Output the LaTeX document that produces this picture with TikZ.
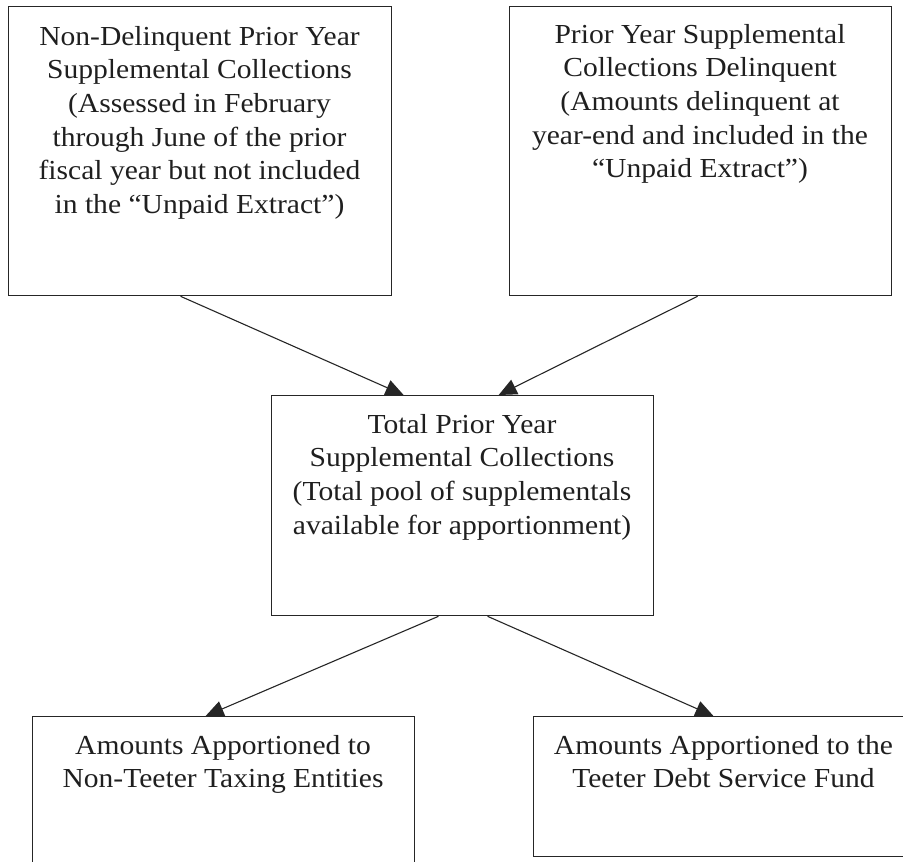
\documentclass[tikz,border=0pt]{standalone}
\usepackage{fontspec}
\setmainfont{Liberation Serif}[FakeStretch=1.075]
\usetikzlibrary{arrows.meta,calc}
\begin{document}
\begin{tikzpicture}[x=1pt,y=-1pt,
  box/.style={draw=black!85,line width=1.3pt,rectangle,inner sep=0pt,anchor=north west},
  txt/.style={align=center,inner sep=0pt,anchor=north,text=black!88,
     font=\fontsize{27.5}{33.6}\selectfont},
  link/.style={draw=black!85,line width=1.1pt,-{Triangle[length=18pt,width=16pt]}}]
\useasboundingbox (0,0) rectangle (903,862);
\clip (0,0) rectangle (903,862);
% boxes
\node[box,minimum width=383pt,minimum height=289pt] (tl) at (8,6) {};
\node[box,minimum width=382pt,minimum height=289pt] (tr) at (509,6) {};
\node[box,minimum width=382pt,minimum height=220pt] (m) at (271,395) {};
\node[box,minimum width=382pt,minimum height=170pt] (bl) at (32,716) {};
\node[box,minimum width=381pt,minimum height=140pt] (br) at (533,716) {};
% texts
\node[txt] (tlt) at (199.5,26) {Non-Delinquent Prior Year\\Supplemental Collections\\(Assessed in February\\through June of the prior\\fiscal year but not included\\in the “Unpaid Extract”)};
\node[txt] (trt) at (700,24) {Prior Year Supplemental\\Collections Delinquent\\(Amounts delinquent at\\year-end and included in the\\“Unpaid Extract”)};
\node[txt] (mt) at (462,414) {Total Prior Year\\Supplemental Collections\\(Total pool of supplementals\\available for apportionment)};
\node[txt] (blt) at (223,735) {Amounts Apportioned to\\Non-Teeter Taxing Entities};
\node[txt] (brt) at (723.5,735) {Amounts Apportioned to the\\Teeter Debt Service Fund};
% connectors
\draw[link] ($(tl.south west)!0.449!(tl.south east)$) -- ($(m.north west)!0.346!(m.north east)$);
\draw[link] ($(tr.south west)!0.492!(tr.south east)$) -- ($(m.north west)!0.594!(m.north east)$);
\draw[link] ($(m.south west)!0.437!(m.south east)$) -- ($(bl.north west)!0.453!(bl.north east)$);
\draw[link] ($(m.south west)!0.565!(m.south east)$) -- ($(br.north west)!0.472!(br.north east)$);
\end{tikzpicture}
\end{document}
